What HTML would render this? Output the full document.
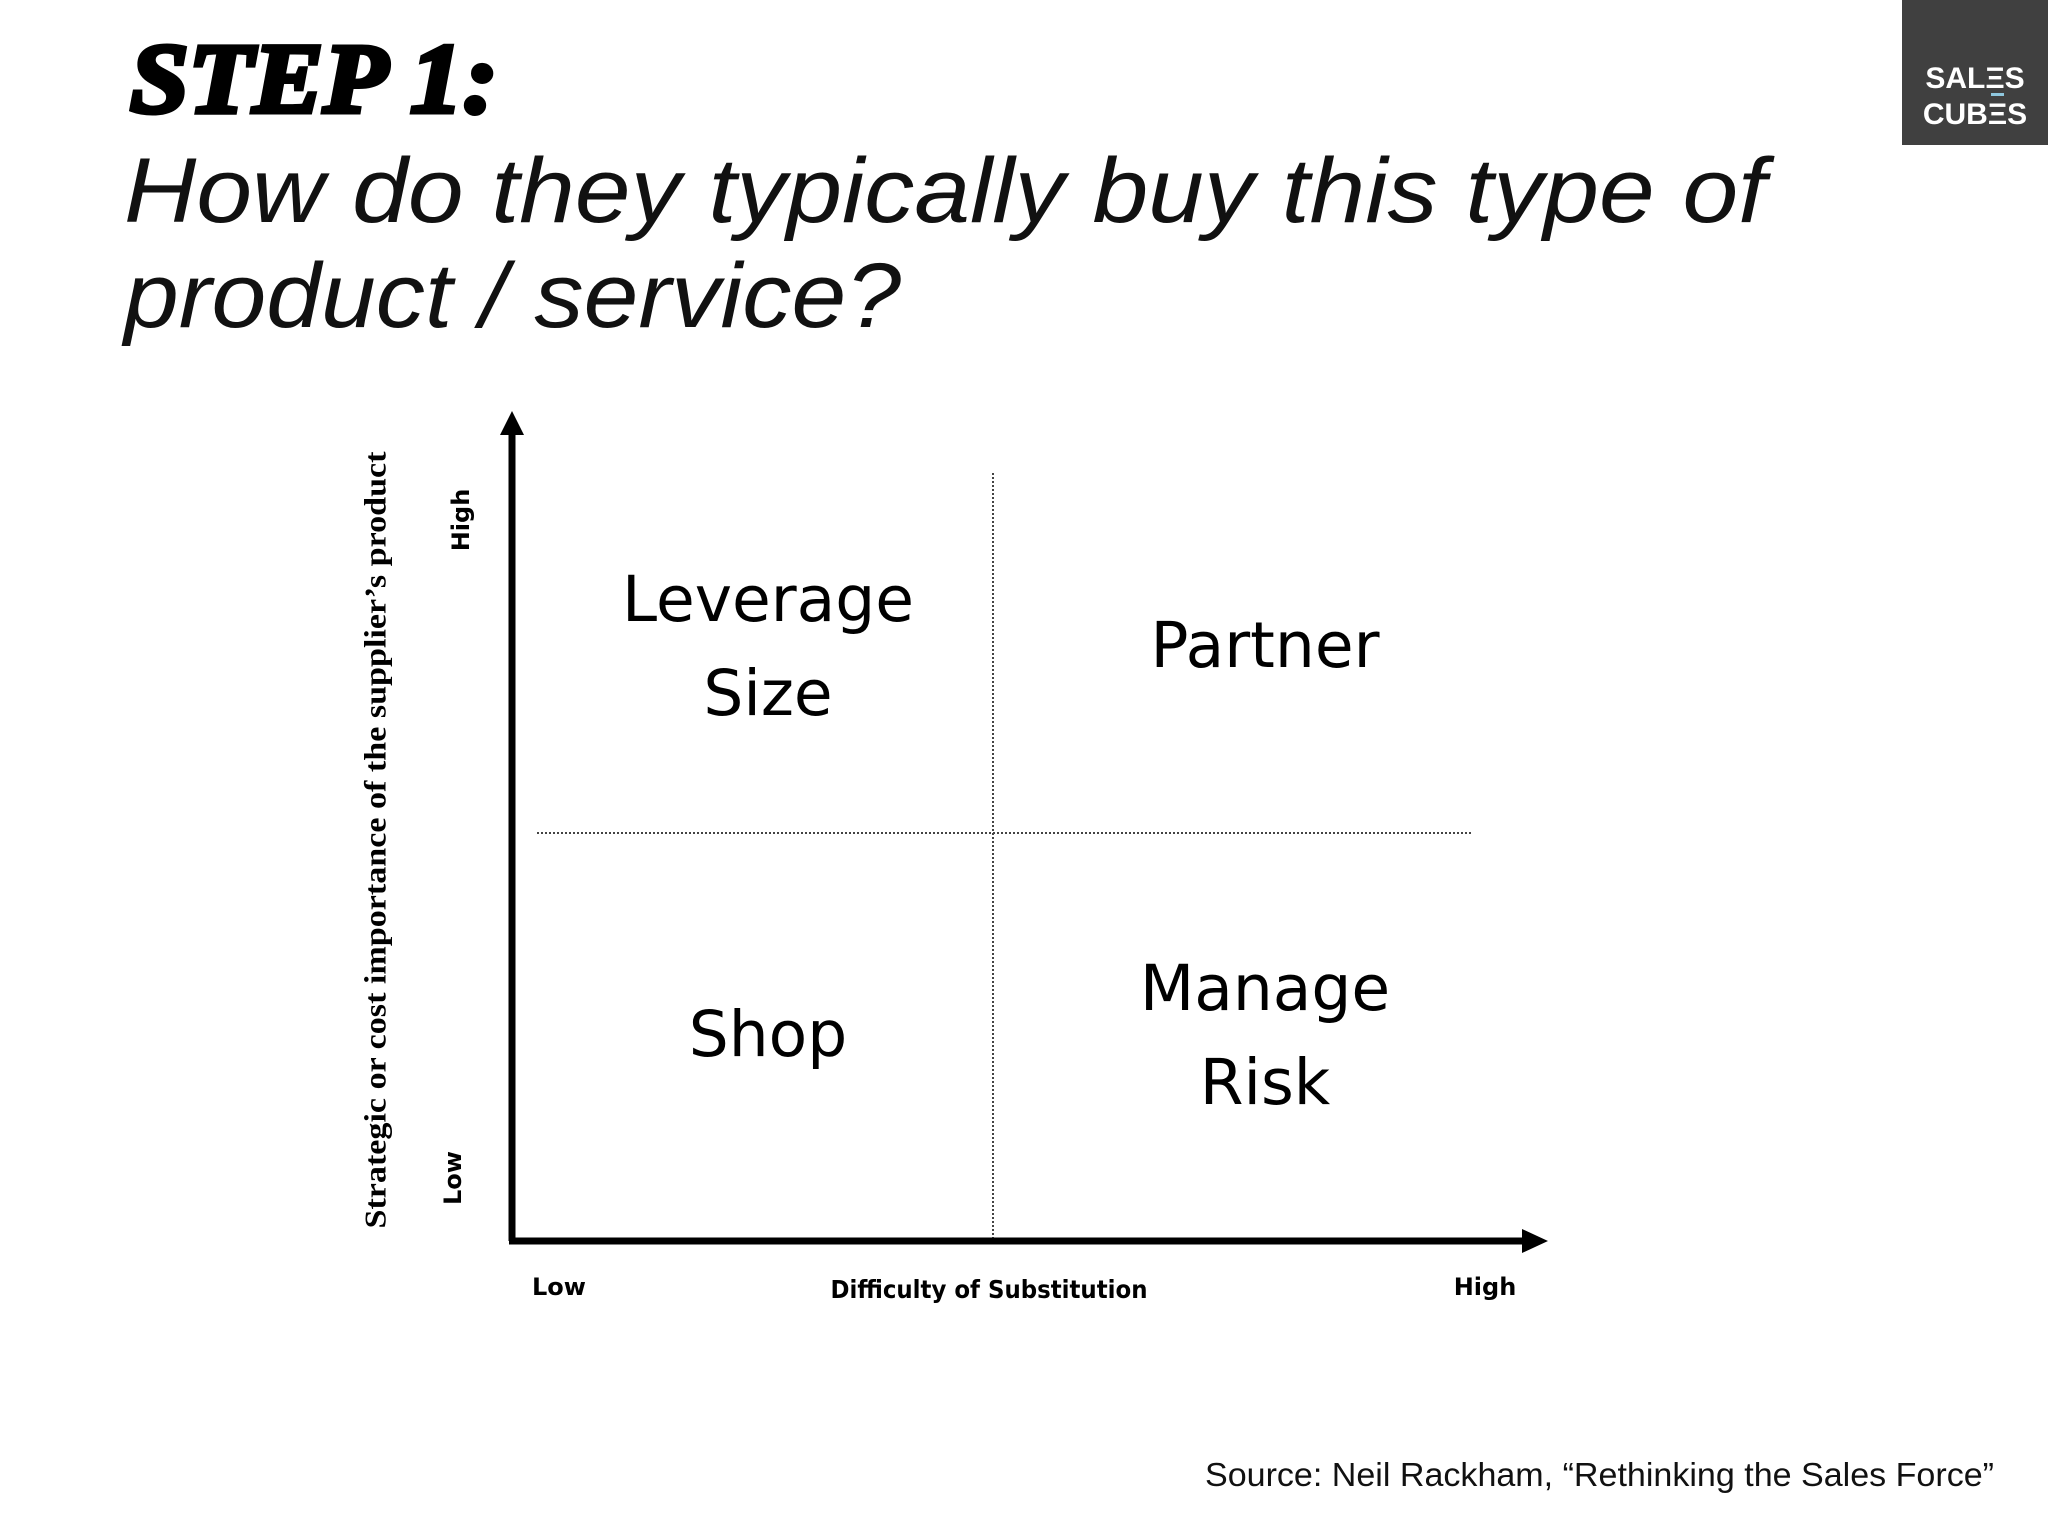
<!DOCTYPE html>
<html><head><meta charset="utf-8"><style>
html,body{margin:0;padding:0;background:#fff;}
svg{display:block;}
</style></head><body>
<svg width="2048" height="1536" viewBox="0 0 2048 1536" xmlns="http://www.w3.org/2000/svg">
<text x="130" y="112" font-family="Liberation Serif, serif" font-weight="900" font-style="italic" font-size="100" textLength="368" lengthAdjust="spacingAndGlyphs" stroke="#000" stroke-width="5" fill="#000">STEP 1:</text>
<text x="124" y="222" font-family="Liberation Sans, sans-serif" font-style="italic" font-size="92" textLength="1642" lengthAdjust="spacingAndGlyphs" fill="#111">How do they typically buy this type of</text>
<text x="124" y="327" font-family="Liberation Sans, sans-serif" font-style="italic" font-size="92" textLength="777" lengthAdjust="spacingAndGlyphs" fill="#111">product / service?</text>
<g>
<rect x="1902" y="0" width="146" height="145" fill="#404040"/>
<text x="1975" y="88" text-anchor="middle" font-family="Liberation Sans, sans-serif" font-weight="bold" font-size="30" fill="#fff">SALΞS</text>
<rect x="1991" y="93" width="13" height="3" fill="#8fc7de"/>
<text x="1975" y="124" text-anchor="middle" font-family="Liberation Sans, sans-serif" font-weight="bold" font-size="30" fill="#fff">CUBΞS</text>
</g>
<g id="chart"></g>
<text x="1994" y="1486" text-anchor="end" font-family="Liberation Sans, sans-serif" font-size="33" textLength="789" lengthAdjust="spacingAndGlyphs" fill="#111">Source: Neil Rackham, “Rethinking the Sales Force”</text>
</svg>
<script>
const quadrantNames = ["Leverage|Size", "Partner", "Shop", "Manage|Risk"];
const quadrantCol = [0, 1, 0, 1];
const quadrantRow = [1, 1, 0, 0];
const xTickLabels = ["Low", "High"];
const yTickLabels = ["Low", "High"];
const NS = "http://www.w3.org/2000/svg";
const g = document.getElementById("chart");
const x0 = 512, x1 = 1548, y0 = 1241, y1 = 411;
const midX = 993, midY = 833;
function mk(tag, attrs, text){ const e=document.createElementNS(NS,tag); for(const k in attrs) e.setAttribute(k,attrs[k]); if(text!==undefined) e.textContent=text; g.appendChild(e); return e; }
const colX = c => c === 0 ? 768 : 1265;
const rowY = r => r === 1 ? 643 : 1032;
let e;
e = mk("line",{x1:midX,y1:473,x2:midX,y2:y0,stroke:"#444","stroke-width":2,"stroke-dasharray":"2 2"});


e = mk("line",{x1:537,y1:midY,x2:1473,y2:midY,stroke:"#444","stroke-width":2,"stroke-dasharray":"2 2"});


e = mk("line",{x1:x0,y1:y0,x2:x0,y2:y1+20,stroke:"#000","stroke-width":7});


e = mk("polygon",{points:`${x0-12},${y1+24} ${x0},${y1} ${x0+12},${y1+24}`,fill:"#000"});


e = mk("line",{x1:x0-3,y1:y0,x2:x1-20,y2:y0,stroke:"#000","stroke-width":7});


e = mk("polygon",{points:`${x1-26},${y0-12} ${x1},${y0} ${x1-26},${y0+12}`,fill:"#000"});


quadrantNames.forEach((n,i)=>{
  const lines = n.split("|");
  const cx = colX(quadrantCol[i]), cy = rowY(quadrantRow[i]);
  const base = lines.length===1 ? cy+24 : cy-46+24;
  lines.forEach((l,j)=>{
    const t = mk("text",{x:cx,y:base+j*94,"text-anchor":"middle","font-family":"DejaVu Sans, sans-serif","font-size":63,fill:"#000"},l);
    
    
  });
});
xTickLabels.forEach((l,i)=>{
  const t = mk("text",{x:i===0?559:1485,y:1295,"text-anchor":"middle","font-family":"DejaVu Sans, sans-serif","font-weight":"bold","font-size":24,fill:"#000"},l);
  
  
});
yTickLabels.forEach((l,i)=>{
  const cx = i===0?453:461, cy = i===0?1178:520;
  const t = mk("text",{x:cx,y:cy,"text-anchor":"middle","dominant-baseline":"central","font-family":"DejaVu Sans, sans-serif","font-weight":"bold","font-size":24,fill:"#000",transform:`rotate(-90 ${cx} ${cy})`},l);
  
  
});
e = mk("text",{x:989,y:1298,"text-anchor":"middle","font-family":"DejaVu Sans, sans-serif","font-weight":"bold","font-size":25,textLength:317,lengthAdjust:"spacingAndGlyphs",fill:"#000"},"Difficulty of Substitution");


e = mk("text",{x:375,y:840,"text-anchor":"middle","dominant-baseline":"central","font-family":"Liberation Serif, serif","font-weight":"bold","font-size":31,textLength:777,lengthAdjust:"spacingAndGlyphs",fill:"#000",transform:"rotate(-90 375 840)"},"Strategic or cost importance of the supplier’s product");


</script>
</body></html>
